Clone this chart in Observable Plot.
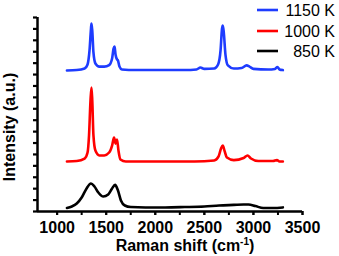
<!DOCTYPE html>
<html>
<head>
<meta charset="utf-8">
<script src="https://cdn.jsdelivr.net/npm/d3@7"></script>
<script src="https://cdn.jsdelivr.net/npm/@observablehq/plot@0.6"></script>
<style>
  html, body { margin: 0; padding: 0; background: #fff; }
</style>
</head>
<body>
<div id="chart"></div>
<script>
// Series labels and colours
const seriesNames = ["1150 K", "1000 K", "850 K"];
const seriesColors = ["#1e3cff", "#ff0000", "#000000"];

// 1150 K (blue, top)
const shift1150 = [1100,1200,1280,1310,1330,1345,1350,1358,1370,1390,1430,1480,1530,1560,1575,1585,1595,1610,1620,1635,1660,1800,2000,2300,2420,2460,2500,2600,2640,2665,2680,2688,2698,2715,2740,2800,2880,2930,2960,3000,3150,3220,3245,3265,3300];
const int1150   = [72.7,72.9,73.7,75.8,83,94.3,96.9,93.3,82,76.3,74.7,74.7,75.5,78.9,84,85,80.9,78.4,77.8,74.7,73.2,72.9,72.9,72.9,73.2,74.2,73.5,73.7,75.8,83,94.3,95.9,92.3,80.9,75.3,73.7,74,75.3,74.7,73.5,73.2,73.5,74.5,73.2,72.9];

// 1000 K (red, middle)
const shift1000 = [1100,1200,1280,1310,1325,1340,1350,1358,1370,1390,1430,1480,1530,1560,1580,1595,1610,1625,1645,1700,2000,2400,2600,2645,2670,2688,2705,2730,2800,2900,2940,2975,3050,3200,3240,3265,3300];
const int1000   = [25.8,26,27.3,30.4,39.2,57.2,63.9,57.2,39.2,31.4,28.9,28.9,30.4,34,38.1,35,37.1,31.4,26.8,25.8,25.8,25.8,26.3,28.4,32.5,34,31.4,27.8,26.5,27.6,28.9,27.3,26,26,26.5,25.8,25.8];

// 850 K (black, bottom)
const shift850 = [1100,1150,1200,1250,1300,1345,1380,1420,1470,1520,1560,1590,1620,1650,1690,1750,1900,2100,2300,2500,2650,2800,2900,2950,3020,3100,3200,3300];
const int850   = [1.8,2.6,4.1,7.2,11.9,14.4,12.9,9.8,7.7,8.8,11.9,13.7,10.8,5.7,3.1,2.3,2.1,2.1,2.3,2.6,3.1,3.4,3.6,3.6,2.8,1.8,1.8,2.1];

// Axis ticks
const xTickLabels = [1000, 1500, 2000, 2500, 3000, 3500];
const xMinorTicks = [1000, 1250, 1500, 1750, 2000, 2250, 2500, 2750, 3000, 3250, 3500];
const yTickCount = 17;

const seriesShifts = [shift1150, shift1000, shift850];
const seriesInts = [int1150, int1000, int850];
const rows = [];
seriesNames.forEach((name, i) => {
  seriesShifts[i].forEach((s, j) => rows.push({series: name, shift: s, intensity: seriesInts[i][j]}));
});
const yTicks = d3.range(0, yTickCount + 1).map(i => i * 100 / yTickCount);

const svg = Plot.plot({
  width: 339,
  height: 256,
  marginLeft: 37,
  marginRight: 37,
  marginTop: 17,
  marginBottom: 45,
  style: {fontFamily: "'Liberation Sans', Arial, sans-serif", fontSize: "16px", fontWeight: "bold", color: "#000", background: "#fff"},
  x: {domain: [800, 3500]},
  y: {domain: [0, 100]},
  color: {domain: seriesNames, range: seriesColors},
  marks: [
    Plot.line(rows, {x: "shift", y: "intensity", z: "series", stroke: "series", strokeWidth: 2.6, curve: "monotone-x"}),
    Plot.axisX({ticks: xMinorTicks, tickSize: 4, strokeWidth: 2, tickFormat: () => "", label: null}),
    Plot.axisX({ticks: xTickLabels, tickSize: 4, tickPadding: 6, strokeWidth: 2, tickFormat: d => String(d), label: null, fontSize: 16, fontWeight: "bold"}),
    Plot.axisY({ticks: yTicks, tickSize: 4, strokeWidth: 2.2, tickFormat: () => "", label: null}),
    Plot.ruleX([800], {strokeWidth: 2.5}),
    Plot.ruleY([0], {strokeWidth: 2.5})
  ]
});
document.getElementById("chart").appendChild(svg);

const s = d3.select(svg);
// Legend
const legendY = [10, 31, 51];
const lg = s.append("g");
seriesNames.forEach((name, i) => {
  lg.append("line").attr("x1", 257).attr("x2", 278).attr("y1", legendY[i]).attr("y2", legendY[i])
    .attr("stroke", seriesColors[i]).attr("stroke-width", 2.6);
  lg.append("text").attr("x", 335).attr("y", legendY[i]).attr("dy", "0.36em")
    .attr("text-anchor", "end").attr("font-size", 16).attr("font-weight", "normal")
    .attr("fill", "#000").text(name);
});
// X title
const xt = s.append("text").attr("x", 185).attr("y", 251).attr("text-anchor", "middle")
  .attr("font-size", 16).attr("font-weight", "bold").attr("fill", "#000");
xt.append("tspan").text("Raman shift (cm");
xt.append("tspan").attr("dy", -6).attr("font-size", 10).text("-1");
xt.append("tspan").attr("dy", 6).text(")");
// Y title
s.append("text").attr("transform", "translate(15,127) rotate(-90)").attr("text-anchor", "middle")
  .attr("font-size", 16).attr("font-weight", "bold").attr("fill", "#000").text("Intensity (a.u.)");
</script>
</body>
</html>
